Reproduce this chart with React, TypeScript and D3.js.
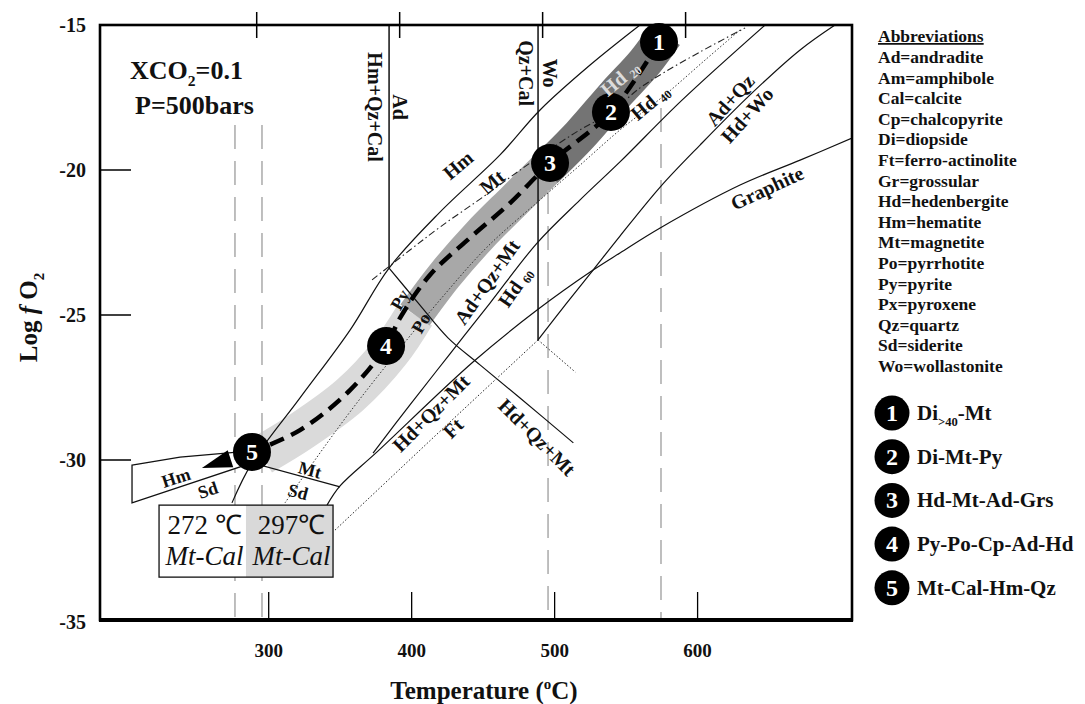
import React, { useEffect, useRef } from "react";
import * as d3 from "d3";

type Pt = [number, number];
type Part = [string, string];

// axis ticks
const tempTicks = [300, 400, 500, 600];
const fo2Ticks = [-15, -20, -25, -30, -35];

// phase boundaries, [T (°C), log fO2]
const hmMt: Pt[] = [[274.3, -31.34], [288.3, -30.09], [321.9, -27.86], [356.9, -25.52], [384.2, -23.38], [419.8, -21.45], [461.8, -19.48], [489.8, -17.93], [524.8, -16.38], [559.7, -15.0]];
const adLine: Pt[] = [[384.2, -15], [384.2, -23.38]];
const woLine: Pt[] = [[488.4, -15], [488.4, -25.86]];
const sulfLine: Pt[] = [[384.2, -23.38], [405.8, -24.66], [425.4, -25.79], [447.8, -26.72], [475.8, -27.86], [513.1, -29.41]];
const adQzMtHd: Pt[] = [[373.0, -29.76], [398.8, -28.1], [426.8, -26.34], [454.8, -24.59], [487.7, -22.52], [517.8, -21.03], [545.7, -19.72], [589.1, -17.59], [647.2, -15.0]];
const graphite: Pt[] = [[340.8, -31.41], [349.9, -30.81], [375.8, -29.72], [442.9, -26.62], [487.7, -24.83], [526.9, -23.45], [545.7, -22.86], [573.8, -22.0], [629.7, -20.52], [671.7, -19.66], [708, -18.9]];
const adQzHdWo: Pt[] = [[488.4, -25.86], [508.0, -24.62], [526.9, -23.45], [545.7, -22.28], [573.8, -20.59], [601.7, -19.14], [636.7, -17.41], [671.7, -15.86], [696.1, -15.0]];
const ftLine: Pt[] = [[346.4, -32.19], [417.0, -29.14], [488.4, -25.86]];
const ftTail: Pt[] = [[488.4, -25.86], [514.5, -26.97]];
const hmSd: Pt[] = [[204.4, -30.16], [238.0, -29.9], [279.9, -29.72], [288.3, -30.09], [204.4, -31.34]];
const mtSd: Pt[] = [[288.3, -30.09], [349.9, -30.84]];
const hdIso1: Pt[] = [[372.3, -23.79], [398.8, -22.76], [419.8, -21.97], [449.9, -20.93], [482.8, -19.76], [514.3, -18.72], [539.4, -18.0], [559.7, -17.17], [577.2, -16.62], [601.7, -15.93], [633.2, -15.1]];
const hdIso2: Pt[] = [[311.4, -31.34], [333.8, -29.9], [356.9, -28.34], [389.7, -26.28], [419.8, -24.48], [452.7, -22.66], [489.8, -21.03], [517.8, -19.83], [545.7, -18.62], [577.2, -17.41], [605.2, -16.21], [629.7, -15.17]];
const refTemps = [276.4, 295.3, 495.4, 574.4];
const refTops = [-18.45, -18.45, -20.69, -17.86];

// fluid path band, light -> dark
const bandLight: Pt[] = [[295.3, -29.83], [321.9, -29.03], [356.9, -27.76], [384.9, -26.28], [402.3, -25.0]];
const bandMid: Pt[] = [[402.3, -25.0], [423.3, -23.62], [447.8, -22.24], [472.3, -21.03], [493.3, -20.0]];
const bandDark: Pt[] = [[493.3, -20.0], [517.8, -18.79], [542.2, -17.41], [563.2, -16.28], [577.2, -15.34]];
const trajectory: Pt[] = [[573.0, -15.59], [539.4, -18.0], [496.8, -19.76], [468.8, -21.14], [440.8, -22.34], [412.8, -23.62], [391.9, -25.1], [382.1, -26.07], [356.9, -27.59], [321.9, -28.97], [288.3, -29.72]];
const arrowTip: Pt = [253.3, -30.25];
const stagePoints: Pt[] = [[573.0, -15.59], [539.4, -18.0], [496.8, -19.76], [382.1, -26.07], [288.3, -29.72]];

const plotLabels: { parts: Part[]; at: Pt; rot: number; fill?: string; size?: number }[] = [
  { parts: [["Hm+Qz+Cal", ""]], at: [374.4, -17.83], rot: 90 },
  { parts: [["Ad", ""]], at: [391.9, -17.83], rot: 90 },
  { parts: [["Qz+Cal", ""]], at: [480.0, -16.66], rot: 90 },
  { parts: [["Wo", ""]], at: [496.8, -16.66], rot: 90 },
  { parts: [["Hm", ""]], at: [432.4, -19.83], rot: -40 },
  { parts: [["Mt", ""]], at: [456.2, -20.41], rot: -40 },
  { parts: [["Hd ", ""], ["20", "sub"]], at: [545.7, -16.83], rot: -40, fill: "#dcdcdc" },
  { parts: [["Hd ", ""], ["40", "sub"]], at: [566.7, -17.66], rot: -40 },
  { parts: [["Ad+Qz", ""]], at: [622.7, -17.59], rot: -48 },
  { parts: [["Hd+Wo", ""]], at: [634.6, -18.1], rot: -48 },
  { parts: [["Graphite", ""]], at: [648.6, -20.62], rot: -25 },
  { parts: [["Ad+Qz+Mt", ""]], at: [452.7, -23.86], rot: -55 },
  { parts: [["Hd ", ""], ["60", "sub"]], at: [472.3, -24.03], rot: -55 },
  { parts: [["Py", ""]], at: [391.9, -24.48], rot: -60, size: 18 },
  { parts: [["Po", ""]], at: [406.5, -25.28], rot: -60, size: 18 },
  { parts: [["Hd+Qz+Mt", ""]], at: [413.5, -28.38], rot: -45 },
  { parts: [["Ft", ""]], at: [428.9, -28.9], rot: -45 },
  { parts: [["Hd+Qz+Mt", ""]], at: [487.7, -29.21], rot: 45 },
  { parts: [["Hm", ""]], at: [235.2, -30.56], rot: -18, size: 18 },
  { parts: [["Sd", ""]], at: [257.5, -30.94], rot: -18, size: 18 },
  { parts: [["Mt", ""]], at: [328.9, -30.31], rot: 15, size: 18 },
  { parts: [["Sd", ""]], at: [320.5, -31.0], rot: 15, size: 18 },
];

// box with the two Mt-Cal temperatures
const boxT = [223.3, 284.1, 345.0];
const boxL = [-31.41, -33.66];
const boxTemps = ["272 \u2103", "297\u2103"];

const abbreviations = ["Ad=andradite", "Am=amphibole", "Cal=calcite", "Cp=chalcopyrite", "Di=diopside", "Ft=ferro-actinolite", "Gr=grossular", "Hd=hedenbergite", "Hm=hematite", "Mt=magnetite", "Po=pyrrhotite", "Py=pyrite", "Px=pyroxene", "Qz=quartz", "Sd=siderite", "Wo=wollastonite"];
const stageLabels: Part[][] = [
  [["Di", ""], [">40", "sub"], ["-Mt", ""]],
  [["Di-Mt-Py", ""]],
  [["Hd-Mt-Ad-Grs", ""]],
  [["Py-Po-Cp-Ad-Hd", ""]],
  [["Mt-Cal-Hm-Qz", ""]],
];

const FONT = "'Liberation Serif', 'Times New Roman', serif";

function richText(sel: any, parts: Part[], size: number) {
  let shift = 0;
  parts.forEach(([s, k]) => {
    const ts = sel.append("tspan").text(s);
    let target = 0;
    if (k === "sub") { ts.attr("font-size", size * 0.6); target = size * 0.28; }
    if (k === "sup") { ts.attr("font-size", size * 0.6); target = -size * 0.42; }
    if (k === "it") ts.attr("font-style", "italic");
    if (target !== shift) { ts.attr("dy", target - shift); shift = target; }
  });
}

const App = () => {
  const ref = useRef<SVGSVGElement>(null);

  useEffect(() => {
    const svg = d3.select(ref.current);
    svg.selectAll("*").remove();
    const W = 1085, H = 704;
    const left = 100, right = 852, top = 25, bottom = 620;

    const x = d3.scaleLinear().domain([182, 708]).range([left, right]);
    const y = d3.scaleLinear().domain([-35, -30, -15]).range([bottom, 460, top]);
    const smooth = d3.line<Pt>().x(d => x(d[0])).y(d => y(d[1])).curve(d3.curveCatmullRom.alpha(0.5));
    const straight = d3.line<Pt>().x(d => x(d[0])).y(d => y(d[1]));

    svg.append("rect").attr("width", W).attr("height", H).attr("fill", "#fff");

    const clip = svg.append("defs").append("clipPath").attr("id", "plot");
    clip.append("rect").attr("x", left).attr("y", top).attr("width", right - left).attr("height", bottom - top);
    const plot = svg.append("g").attr("clip-path", "url(#plot)");

    // band
    [[bandLight, "#dadada", 40], [bandMid, "#a8a8a8", 36], [bandDark, "#747474", 36]].forEach(([d, c, w]: any) => {
      plot.append("path").attr("d", smooth(d)).attr("fill", "none").attr("stroke", c).attr("stroke-width", w);
    });

    // reference temperatures
    refTemps.forEach((t, i) => {
      plot.append("line").attr("x1", x(t)).attr("x2", x(t)).attr("y1", y(refTops[i])).attr("y2", bottom)
        .attr("stroke", "#b8b8b8").attr("stroke-width", 1.8).attr("stroke-dasharray", "24,12");
    });

    // box
    const bx0 = x(boxT[0]), bx1 = x(boxT[1]), bx2 = x(boxT[2]);
    const by0 = y(boxL[0]), by1 = y(boxL[1]);
    svg.append("rect").attr("x", bx0).attr("y", by0).attr("width", bx1 - bx0).attr("height", by1 - by0).attr("fill", "#fff");
    svg.append("rect").attr("x", bx1).attr("y", by0).attr("width", bx2 - bx1).attr("height", by1 - by0).attr("fill", "#d9d9d9");
    svg.append("rect").attr("x", bx0).attr("y", by0).attr("width", bx2 - bx0).attr("height", by1 - by0)
      .attr("fill", "none").attr("stroke", "#111").attr("stroke-width", 1.3);
    [bx0, bx1].forEach((bx, i) => {
      const cx = (bx + [bx1, bx2][i]) / 2;
      svg.append("text").attr("x", cx + 2).attr("y", by0 + 29).attr("text-anchor", "middle")
        .attr("font-family", FONT).attr("font-size", 27).attr("fill", "#111").text(boxTemps[i]);
      svg.append("text").attr("x", cx + 2).attr("y", by0 + 60).attr("text-anchor", "middle")
        .attr("font-family", FONT).attr("font-size", 27).attr("font-style", "italic").attr("fill", "#111").text("Mt-Cal");
    });

    // solid boundaries
    const solid = [hmMt, sulfLine, adQzMtHd, graphite, adQzHdWo, mtSd];
    solid.forEach(d => {
      plot.append("path").attr("d", smooth(d)).attr("fill", "none").attr("stroke", "#111").attr("stroke-width", 1.2);
    });
    [adLine, woLine].forEach(d => {
      plot.append("path").attr("d", straight(d)).attr("fill", "none").attr("stroke", "#111").attr("stroke-width", 1.5);
    });
    plot.append("path").attr("d", straight(hmSd) + "Z").attr("fill", "#fff").attr("stroke", "#111").attr("stroke-width", 1.3);
    [ftLine, ftTail].forEach(d => {
      plot.append("path").attr("d", straight(d)).attr("fill", "none").attr("stroke", "#222")
        .attr("stroke-width", 1).attr("stroke-dasharray", "1.5,2");
    });
    plot.append("path").attr("d", smooth(hdIso1)).attr("fill", "none").attr("stroke", "#222")
      .attr("stroke-width", 1.1).attr("stroke-dasharray", "7,3,1.5,3");
    plot.append("path").attr("d", smooth(hdIso2)).attr("fill", "none").attr("stroke", "#333")
      .attr("stroke-width", 1).attr("stroke-dasharray", "1.5,2");

    // fluid path
    plot.append("path").attr("d", smooth(trajectory)).attr("fill", "none").attr("stroke", "#000")
      .attr("stroke-width", 4.5).attr("stroke-dasharray", "15,8");
    const s5: Pt = [x(stagePoints[4][0]), y(stagePoints[4][1])];
    const tip: Pt = [x(arrowTip[0]), y(arrowTip[1])];
    const dx = tip[0] - s5[0], dy = tip[1] - s5[1];
    const len = Math.hypot(dx, dy);
    const ux = dx / len, uy = dy / len;
    const bxp = tip[0] - ux * 30, byp = tip[1] - uy * 30;
    svg.append("path")
      .attr("d", `M${tip[0]},${tip[1]}L${bxp - uy * 9},${byp + ux * 9}L${bxp + uy * 9},${byp - ux * 9}Z`)
      .attr("fill", "#000");

    // stage circles
    stagePoints.forEach((p, i) => {
      svg.append("circle").attr("cx", x(p[0])).attr("cy", y(p[1])).attr("r", 19).attr("fill", "#000");
      svg.append("text").attr("x", x(p[0])).attr("y", y(p[1]) + 8).attr("text-anchor", "middle")
        .attr("font-family", FONT).attr("font-weight", "bold").attr("font-size", 24).attr("fill", "#fff").text(i + 1);
    });

    // in-plot labels
    plotLabels.forEach(l => {
      const fs = l.size || 20;
      const g = svg.append("g").attr("transform", `translate(${x(l.at[0])},${y(l.at[1])}) rotate(${l.rot})`);
      const t = g.append("text").attr("text-anchor", "middle").attr("dominant-baseline", "central")
        .attr("font-family", FONT).attr("font-weight", "bold").attr("font-size", fs).attr("fill", l.fill || "#111");
      richText(t, l.parts, fs);
    });

    // frame
    svg.append("rect").attr("x", left).attr("y", top).attr("width", right - left).attr("height", bottom - top)
      .attr("fill", "none").attr("stroke", "#000").attr("stroke-width", 2.6);
    svg.append("line").attr("x1", left - 1).attr("x2", right + 1).attr("y1", bottom).attr("y2", bottom)
      .attr("stroke", "#000").attr("stroke-width", 4);

    // ticks
    tempTicks.forEach(t => {
      svg.append("line").attr("x1", x(t)).attr("x2", x(t)).attr("y1", bottom - 28).attr("y2", bottom)
        .attr("stroke", "#000").attr("stroke-width", 1.3);
      svg.append("line").attr("x1", x(t) - 12).attr("x2", x(t) - 12).attr("y1", top - 13).attr("y2", top + 13)
        .attr("stroke", "#000").attr("stroke-width", 1.5);
      svg.append("text").attr("x", x(t)).attr("y", bottom + 37).attr("text-anchor", "middle")
        .attr("font-family", FONT).attr("font-weight", "bold").attr("font-size", 19).attr("fill", "#111").text(t);
    });
    fo2Ticks.forEach(v => {
      if (v !== -15 && v !== -35) {
        svg.append("line").attr("x1", left).attr("x2", left + 31).attr("y1", y(v)).attr("y2", y(v))
          .attr("stroke", "#000").attr("stroke-width", 1.5);
      }
      svg.append("text").attr("x", left - 14).attr("y", y(v) + (v === -35 ? 9 : 7)).attr("text-anchor", "end")
        .attr("font-family", FONT).attr("font-weight", "bold").attr("font-size", 20).attr("fill", "#111").text(v);
    });

    // axis titles
    const xt = svg.append("text").attr("x", 484).attr("y", 699).attr("text-anchor", "middle")
      .attr("font-family", FONT).attr("font-weight", "bold").attr("font-size", 25).attr("fill", "#111");
    richText(xt, [["Temperature (", ""], ["o", "sup"], ["C)", ""]], 25);
    const yt = svg.append("text").attr("transform", `translate(37,${(top + bottom) / 2 - 5}) rotate(-90)`)
      .attr("text-anchor", "middle").attr("font-family", FONT).attr("font-weight", "bold").attr("font-size", 25).attr("fill", "#111");
    richText(yt, [["Log ", ""], ["f", "it"], [" O", ""], ["2", "sub"]], 25);

    // conditions
    const c1 = svg.append("text").attr("x", 130).attr("y", 79).attr("font-family", FONT)
      .attr("font-weight", "bold").attr("font-size", 26).attr("fill", "#111");
    richText(c1, [["XCO", ""], ["2", "sub"], ["=0.1", ""]], 26);
    svg.append("text").attr("x", 135).attr("y", 114).attr("font-family", FONT)
      .attr("font-weight", "bold").attr("font-size", 26).attr("fill", "#111").text("P=500bars");

    // abbreviations
    svg.append("text").attr("x", 878).attr("y", 42).attr("font-family", FONT).attr("font-weight", "bold")
      .attr("font-size", 17.5).attr("text-decoration", "underline").attr("fill", "#111").text("Abbreviations");
    abbreviations.forEach((a, i) => {
      svg.append("text").attr("x", 878).attr("y", 63 + i * 20.6).attr("font-family", FONT).attr("font-weight", "bold")
        .attr("font-size", 17.5).attr("fill", "#111").text(a);
    });

    // stages legend
    stageLabels.forEach((parts, i) => {
      const cy = 413 + i * 43.7;
      svg.append("circle").attr("cx", 892).attr("cy", cy).attr("r", 17.5).attr("fill", "#000");
      svg.append("text").attr("x", 892).attr("y", cy + 8).attr("text-anchor", "middle").attr("font-family", FONT)
        .attr("font-weight", "bold").attr("font-size", 24).attr("fill", "#fff").text(i + 1);
      const t = svg.append("text").attr("x", 917).attr("y", cy + 7).attr("font-family", FONT)
        .attr("font-weight", "bold").attr("font-size", 21).attr("fill", "#111");
      richText(t, parts, 21);
    });
  }, []);

  return (
    <svg ref={ref} width={1085} height={704} style={{ position: "absolute", left: 0, top: 0 }} />
  );
};

export default App;
